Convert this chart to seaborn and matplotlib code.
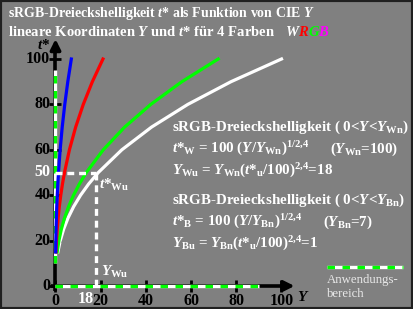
import numpy as np
import pandas as pd
import matplotlib
matplotlib.use("Agg")
import matplotlib.pyplot as plt
import seaborn as sns

t_stern = [15, 20, 25, 30, 35, 40, 45, 50, 60, 70, 80, 90, 100]
Y_weiss = [1.05, 2.10, 3.59, 5.56, 8.05, 11.09, 14.71, 18.95, 29.35, 42.49, 58.54, 77.65, 100]
Y_gruen = [0.76, 1.51, 2.58, 4.01, 5.80, 7.98, 10.59, 13.64, 21.13, 30.59, 42.15, 55.91, 72]
Y_rot = [0.22, 0.44, 0.75, 1.17, 1.69, 2.33, 3.09, 3.98, 6.16, 8.92, 12.29, 16.31, 21]
Y_blau = [0.07, 0.15, 0.25, 0.39, 0.56, 0.78, 1.03, 1.33, 2.05, 2.97, 4.10, 5.44, 7]
farben = ["W", "G", "R", "B"]
palette = {"W": "white", "G": "#00ff00", "R": "#ff0000", "B": "#0000ff"}

x_ticks = [20, 40, 60, 80, 100]
x_ticklabels = ["20", "40", "60", "80", "100"]
y_ticks = [20, 40, 60, 80, 100]
y_ticklabels = ["20", "40", "60", "80", "100"]
Y_Wu = 18
t_Wu = 50

rows = []
for f, ys in zip(farben, [Y_weiss, Y_gruen, Y_rot, Y_blau]):
    for y, t in zip(ys, t_stern):
        rows.append({"Y": y, "t": t, "Farbe": f})
df = pd.DataFrame(rows)

plt.rcParams["font.family"] = "Liberation Serif"
plt.rcParams["font.weight"] = "bold"
plt.rcParams["mathtext.fontset"] = "custom"
plt.rcParams["mathtext.rm"] = "Liberation Serif:bold"
plt.rcParams["mathtext.it"] = "Liberation Serif:italic:bold"
plt.rcParams["mathtext.bf"] = "Liberation Serif:bold"
plt.rcParams["lines.scale_dashes"] = False

W, H = 413, 309
grau = "#808080"
fig = plt.figure(figsize=(W / 100, H / 100), dpi=100)
fig.patch.set_facecolor(grau)
ax = fig.add_axes([0, 0, 1, 1])
ax.set_facecolor(grau)
ax.set_axis_off()
# pixel mapping: x = 55.5 + 2.26*Y, y = 286 - 2.27*t
ax.set_xlim(-55.5 / 2.26, (W - 55.5) / 2.26)
ax.set_ylim(-(H - 286) / 2.27, 286 / 2.27)


def fx(px):
    return px / W


def fy(py):
    return 1 - py / H


# Achsen
ax.plot([-2, 103], [0, 0], color="black", lw=2.6, solid_capstyle="butt", zorder=2)
ax.annotate("", xy=(107, 0), xytext=(100, 0),
            arrowprops=dict(arrowstyle="-|>,head_length=0.6,head_width=0.3", color="black", lw=2.6))
ax.plot([0, 0], [-2, 104], color="black", lw=2.6, solid_capstyle="butt", zorder=2)
ax.annotate("", xy=(0, 110), xytext=(0, 102),
            arrowprops=dict(arrowstyle="-|>,head_length=0.6,head_width=0.3", color="black", lw=2.6))
ax.plot(x_ticks, [0] * len(x_ticks), ls="none", marker="|", ms=8, mew=2, color="black", zorder=3)
ax.plot([0] * len(y_ticks), y_ticks, ls="none", marker="_", ms=8, mew=2, color="black", zorder=3)
ax.plot([0], [0], ls="none", marker="+", ms=8, mew=2, color="black", zorder=3)

# Anwendungsbereich
for xs, ys in [([0, 90], [0, 0]), ([0, 0], [10, 95])]:
    ax.plot(xs, ys, color="white", lw=2.4, solid_capstyle="butt", zorder=4)
    ax.plot(xs, ys, color="#00ff00", lw=2.4, dashes=(5.4, 5.4), dash_capstyle="butt", zorder=5)

# Kurven
sns.lineplot(data=df, x="Y", y="t", hue="Farbe", palette=palette, hue_order=farben,
             estimator=None, legend=False, lw=2.3, ax=ax, zorder=6)

# Y_Wu-Hilfslinien
ax.plot([0, Y_Wu], [t_Wu, t_Wu], color="white", lw=2.4, dashes=(5, 3.5), zorder=7)
ax.plot([Y_Wu, Y_Wu], [t_Wu, 0], color="white", lw=2.4, dashes=(5, 3.5), zorder=7)

# Beschriftung der Achsen
tfs = 11.5
for v, lab in zip(x_ticks, x_ticklabels):
    ax.text(v, -(305 - 286) / 2.27, lab, ha="center", va="baseline", fontsize=tfs, color="black")
ax.text(0, -(305 - 286) / 2.27, "0", ha="center", va="baseline", fontsize=tfs, color="black")
ax.text(Y_Wu - 4.5, -(303 - 286) / 2.27, "18", ha="center", va="baseline", fontsize=tfs, color="white")
for v, lab in zip(y_ticks, y_ticklabels):
    ax.text(-2.3, v, lab, ha="right", va="center", fontsize=tfs, color="black")
ax.text(-2.3, 0, "0", ha="right", va="center", fontsize=tfs, color="black")
ax.text(-2.3, t_Wu, "50", ha="right", va="center", fontsize=tfs, color="white")
fig.text(fx(37), fy(49), r"$t$*", fontsize=11, color="black", va="baseline")
fig.text(fx(297), fy(301), r"$Y$", fontsize=11, color="black", va="baseline")
fig.text(fx(99), fy(189), r"$t{*}_\mathrm{Wu}$", fontsize=11, color="white", va="baseline")
fig.text(fx(101), fy(276), r"$Y_\mathrm{Wu}$", fontsize=11, color="white", va="baseline")

# Titel
fig.text(fx(8), fy(17), r"sRGB-Dreieckshelligkeit $t$* als Funktion von CIE $Y$",
         fontsize=10, color="white", va="baseline")
fig.text(fx(8), fy(36), r"lineare Koordinaten $Y$ und $t$* für 4 Farben",
         fontsize=10.5, color="white", va="baseline")
teile = [("W", "white", 286), ("R", "#ff0000", 298), ("G", "#00ff00", 308.5), ("B", "#ff00ff", 318)]
for s, c, px in teile:
    fig.text(fx(px), fy(36), s, fontsize=10.5, color=c, va="baseline", fontstyle="italic")

# Formeltexte
fs = 10.8
fig.text(fx(172), fy(131), r"sRGB-Dreieckshelligkeit ( 0<$Y$<$Y_\mathrm{Wn}$)", fontsize=fs, color="white", va="baseline")
fig.text(fx(172), fy(153), r"$t{*}_\mathrm{W}$ = 100 ($Y$/$Y_\mathrm{Wn})^{1/2{,}4}$", fontsize=fs, color="white", va="baseline")
fig.text(fx(330), fy(153), r"($Y_\mathrm{Wn}$=100)", fontsize=fs, color="white", va="baseline")
fig.text(fx(172), fy(175), r"$Y_\mathrm{Wu}$ = $Y_\mathrm{Wn}$($t{*}_\mathrm{u}$/100$)^{2{,}4}$=18", fontsize=fs, color="white", va="baseline")
fig.text(fx(172), fy(204), r"sRGB-Dreieckshelligkeit ( 0<$Y$<$Y_\mathrm{Bn}$)", fontsize=fs, color="white", va="baseline")
fig.text(fx(172), fy(226), r"$t{*}_\mathrm{B}$ = 100 ($Y$/$Y_\mathrm{Bn})^{1/2{,}4}$", fontsize=fs, color="white", va="baseline")
fig.text(fx(323), fy(226), r"($Y_\mathrm{Bn}$=7)", fontsize=fs, color="white", va="baseline")
fig.text(fx(172), fy(248), r"$Y_\mathrm{Bu}$ = $Y_\mathrm{Bn}$($t{*}_\mathrm{u}$/100$)^{2{,}4}$=1", fontsize=fs, color="white", va="baseline")

# Legende
lx = [(327 - 55.5) / 2.26, (403 - 55.5) / 2.26]
ly = [(286 - 267) / 2.27] * 2
ax.plot(lx, ly, color="white", lw=2.4, solid_capstyle="butt", zorder=4)
ax.plot(lx, ly, color="#00ff00", lw=2.4, dashes=(5.4, 5.4), dash_capstyle="butt", zorder=5)
fig.text(fx(327), fy(283), "Anwendungs-", fontsize=9.2, fontweight="normal", color="#e8e8e8", va="baseline")
fig.text(fx(327), fy(297), "bereich", fontsize=9.2, fontweight="normal", color="#e8e8e8", va="baseline")

# Rahmen
fig.add_artist(plt.Rectangle((0, 0), 1, 1, transform=fig.transFigure, fill=False,
                             edgecolor="#202020", lw=3))

fig.savefig("out.png", dpi=100, facecolor=grau)
